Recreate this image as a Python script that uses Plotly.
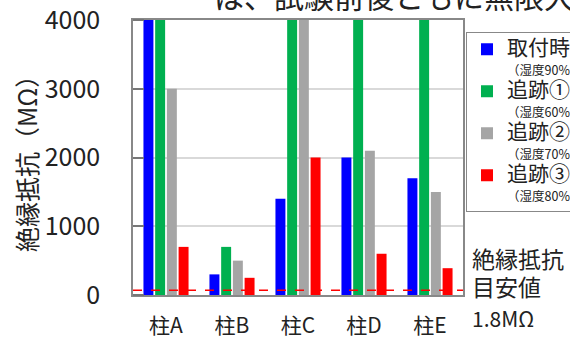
import plotly.graph_objects as go

categories = ["柱A", "柱B", "柱C", "柱D", "柱E"]
series_main = ["取付時", "追跡①", "追跡②", "追跡③"]
series_sub = ["（湿度90%）", "（湿度60%）", "（湿度70%）", "（湿度80%）"]
torituke = [4000, 300, 1400, 2000, 1700]
tsuiseki1 = [4000, 700, 4000, 4000, 4000]
tsuiseki2 = [3000, 500, 4000, 2100, 1500]
tsuiseki3 = [700, 250, 2000, 600, 390]
colors = ["#0000FF", "#00B050", "#A5A5A5", "#FF0000"]
threshold = 70
y_ticks = [0, 1000, 2000, 3000, 4000]
y_title = "絶縁抵抗（MΩ）"
note_lines = ["絶縁抵抗", "目安値", "1.8MΩ"]
top_text = "は、試験前後ともに無限大"

FONT = "Noto Sans CJK JP"
PLOT_H = 275
PLOT_W = 330

fig = go.Figure()
for main, sub, vals, c in zip(series_main, series_sub,
                              [torituke, tsuiseki1, tsuiseki2, tsuiseki3], colors):
    name = (f"<span style='font-size:21px'>{main}</span><br>"
            f"<span style='font-size:12.5px'>{sub}</span>")
    fig.add_trace(go.Bar(x=categories, y=vals, name=name,
                         marker=dict(color=c, line=dict(width=0))))

fig.add_shape(type="line", xref="paper", yref="y", x0=0, x1=1, y0=threshold, y1=threshold,
              line=dict(color="#FF0000", width=1.5, dash="dash"))

note_y = [258, 286, 318]
note_size = [23, 23, 21]
for txt, py, fs in zip(note_lines, note_y, note_size):
    fig.add_annotation(text=txt, xref="paper", yref="paper",
                       x=(470 - 133) / PLOT_W, y=(295 - py) / PLOT_H,
                       xanchor="left", yanchor="middle", align="left",
                       showarrow=False, font=dict(family=FONT, size=fs, color="#222"))
fig.add_annotation(text=top_text, xref="paper", yref="paper",
                   x=(212 - 133) / PLOT_W, y=1.0 + 25 / PLOT_H, xanchor="left", yanchor="middle",
                   showarrow=False, font=dict(family=FONT, size=30, color="#222"))
fig.add_annotation(text=y_title, xref="paper", yref="paper", textangle=-90,
                   x=(26 - 133) / PLOT_W, y=(295 - 158) / PLOT_H,
                   xanchor="center", yanchor="middle", showarrow=False,
                   font=dict(family=FONT, size=25, color="#222"))

fig.update_layout(
    width=570, height=338,
    margin=dict(l=133, r=107, t=20, b=43, autoexpand=False),
    paper_bgcolor="white", plot_bgcolor="white",
    barmode="group", bargap=0.29, bargroupgap=0.15,
    font=dict(family=FONT, color="#222"),
    showlegend=True,
    legend=dict(x=(466 - 133) / PLOT_W, y=(295 - 32) / PLOT_H, xanchor="left", yanchor="top",
                bordercolor="#888", borderwidth=1, bgcolor="white",
                font=dict(family=FONT, size=15, color="#222"),
                valign="top", tracegroupgap=0, itemwidth=30),
    xaxis=dict(showline=True, linecolor="#888", linewidth=1.5, mirror=True,
               tickfont=dict(size=21), ticks="", ticklabelstandoff=11),
    yaxis=dict(range=[0, 4000], tickvals=y_ticks, showgrid=True, gridcolor="#D9D9D9",
               gridwidth=1.5, showline=True, linecolor="#888", linewidth=1.5, mirror=True,
               ticks="outside", ticklen=26, tickcolor="rgba(0,0,0,0)",
               ticklabeloverflow="allow",
               minor=dict(ticks="inside", tick0=0, dtick=1000, ticklen=11,
                          tickcolor="#777", tickwidth=1.5, showgrid=False),
               tickfont=dict(size=25),
               zeroline=False),
)

fig.write_html("out.html", post_script="document.body.style.margin='0';",
               config={"displayModeBar": False})
